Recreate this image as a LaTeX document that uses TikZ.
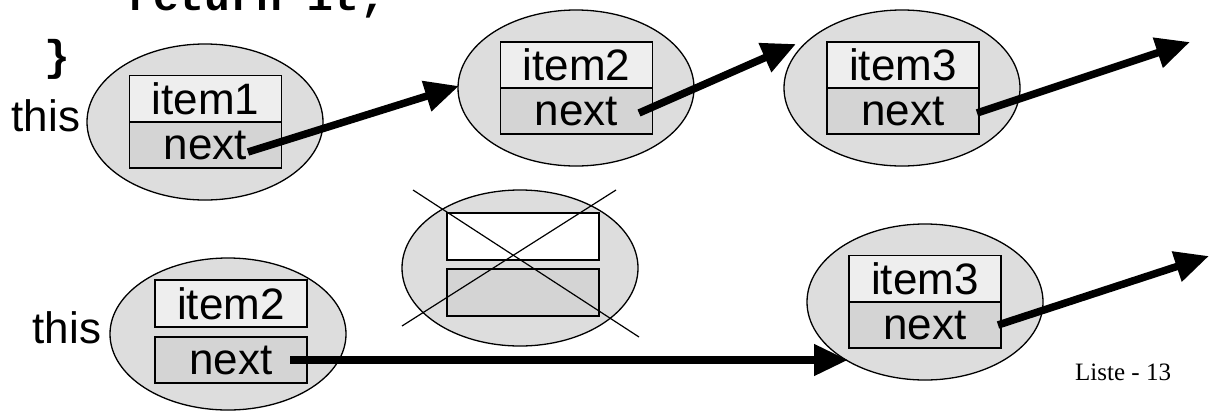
\documentclass[tikz,border=0pt]{standalone}
\usepackage{fontspec}
\setmainfont{Liberation Sans}
\newfontfamily\codefont{Liberation Mono}
\newfontfamily\timesfont{Liberation Serif}
\usetikzlibrary{arrows.meta,shapes.geometric}
\definecolor{ellfill}{HTML}{DDDDDD}
\definecolor{itemfill}{HTML}{EEEEEE}
\definecolor{nextfill}{HTML}{D4D4D4}
\tikzset{
  obj/.style={ellipse, draw=black, line width=1.3pt, fill=ellfill, minimum width=236pt, minimum height=156pt, inner sep=0pt},
  itembox/.style={draw=black, line width=1.8pt, fill=itemfill, minimum width=152pt, minimum height=46pt, inner sep=0pt, font=\fontsize{44}{44}\selectfont},
  nextbox/.style={draw=black, line width=1.8pt, fill=nextfill, minimum width=152pt, minimum height=46pt, inner sep=0pt, font=\fontsize{44}{44}\selectfont},
  label/.style={inner sep=0pt, font=\fontsize{44}{44}\selectfont},
  ptr/.style={line width=7.5pt, -{Triangle[length=34pt,width=30pt]}},
  crossline/.style={line width=1.2pt}
}
\begin{document}
\begin{tikzpicture}[x=1pt,y=-1pt]
\useasboundingbox (0,0) rectangle (1209,410);
\begin{scope}
\clip (0,0) rectangle (1209,410);
% code text
\node[anchor=base west, inner sep=0pt, font=\codefont\bfseries\fontsize{43}{43}\selectfont] (code) at (127,10) {return it;};
\node[anchor=base west, inner sep=0pt, font=\codefont\bfseries\fontsize{43}{43}\selectfont] (brace) at (44,70) {\}};

% top row
\node[obj] (e1) at (205,122) {};
\node[itembox] (i1) at (205.5,98.5) {item1};
\node[nextbox] (n1) at (205.5,145) {next};
\node[label] (this1) at (46,116) {this};

\node[obj] (e2) at (576,88) {};
\node[itembox] (i2) at (576.5,65) {item2};
\node[nextbox] (n2) at (576.5,111) {next};

\node[obj] (e3) at (902,88) {};
\node[itembox] (i3) at (903,65) {item3};
\node[nextbox] (n3) at (903,111) {next};

\coordinate (s1) at (248,152);
\coordinate (t1) at (459,86);
\coordinate (s2) at (639,113);
\coordinate (t2) at (796,44);
\coordinate (s3) at (977,113);
\coordinate (t3) at (1190,42);
\draw[ptr] (s1) -- (t1);
\draw[ptr] (s2) -- (t2);
\draw[ptr] (s3) -- (t3);

% bottom row
\node[obj, minimum height=152pt] (e4) at (228,334) {};
\node[itembox, minimum height=47pt] (i4) at (231,303.5) {item2};
\node[nextbox, minimum height=46pt] (n4) at (231,360) {next};
\node[label] (this2) at (67,328) {this};

\node[obj] (e6) at (520,268) {};
\node[itembox, fill=white, minimum height=47pt] (x1) at (523,236.5) {};
\node[nextbox, minimum height=47pt] (x2) at (523,292.5) {};
\coordinate (c1a) at (413,190);
\coordinate (c1b) at (639,337);
\coordinate (c2a) at (616,190);
\coordinate (c2b) at (402,326);
\draw[crossline] (c1a) -- (c1b);
\draw[crossline] (c2a) -- (c2b);

\node[obj] (e5) at (925,302) {};
\node[itembox] (i5) at (925,278.5) {item3};
\node[nextbox] (n5) at (925,325) {next};

\coordinate (s4) at (290,360);
\coordinate (t4) at (848,360);
\draw[ptr] (s4) -- (t4);
\coordinate (s5) at (998,325);
\coordinate (t5) at (1209,256);
\draw[ptr] (s5) -- (t5);

\node[anchor=base west, inner sep=0pt, font=\timesfont\fontsize{25}{25}\selectfont] (page) at (1075,380) {Liste - 13};
\end{scope}
\end{tikzpicture}
\end{document}
